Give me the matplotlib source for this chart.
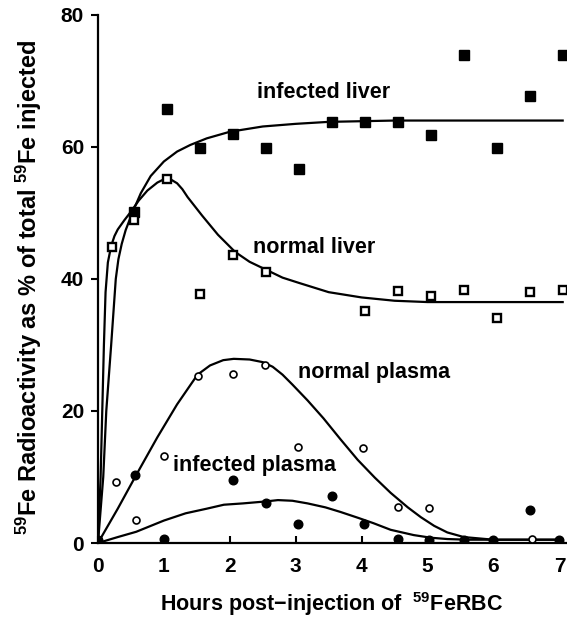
import matplotlib
matplotlib.use("Agg")
import matplotlib.pyplot as plt

plt.rcParams['font.family'] = ['Liberation Sans', 'DejaVu Sans']
plt.rcParams['font.weight'] = 'bold'
plt.rcParams['axes.labelweight'] = 'bold'
plt.rcParams['mathtext.fontset'] = 'custom'
plt.rcParams['mathtext.rm'] = 'Liberation Sans:bold'
plt.rcParams['mathtext.it'] = 'Liberation Sans:bold:italic'
plt.rcParams['mathtext.bf'] = 'Liberation Sans:bold'

# measured points (hours, % of injected 59Fe)
inf_liver_x = [0.55, 1.05, 1.55, 2.05, 2.55, 3.05, 3.55, 4.05, 4.55, 5.05, 5.55, 6.05, 6.55, 7.05]
inf_liver_y = [50.2, 65.8, 59.8, 62.0, 59.8, 56.7, 63.8, 63.8, 63.8, 61.8, 73.9, 59.8, 67.7, 73.9]

norm_liver_x = [0.22, 0.55, 1.05, 1.55, 2.05, 2.55, 4.05, 4.55, 5.05, 5.55, 6.05, 6.55, 7.05]
norm_liver_y = [44.8, 48.9, 55.2, 37.7, 43.6, 41.1, 35.2, 38.2, 37.4, 38.3, 34.1, 38.0, 38.3]

norm_plasma_x = [0, 0.27, 0.58, 1.0, 1.51, 2.05, 2.53, 3.03, 4.02, 4.55, 5.02, 6.58]
norm_plasma_y = [0.5, 9.3, 3.5, 13.2, 25.3, 25.6, 27.0, 14.6, 14.4, 5.4, 5.3, 0.6]

inf_plasma_x = [0, 0.56, 1.0, 2.05, 2.55, 3.03, 3.55, 4.03, 4.55, 5.02, 5.55, 6.0, 6.56, 7.0]
inf_plasma_y = [0.5, 10.3, 0.6, 9.5, 6.0, 2.9, 7.1, 2.9, 0.6, 0.5, 0.4, 0.4, 5.0, 0.4]

# fitted curves
inf_liver_fit_x = [0, 0.04, 0.08, 0.126, 0.2, 0.27, 0.31, 0.36, 0.42, 0.52, 0.65, 0.8, 1.0, 1.2,
                   1.4, 1.65, 2.0, 2.5, 3.0, 3.5, 4.5, 7.05]
inf_liver_fit_y = [0, 5, 10, 20, 30, 40, 43, 45.3, 47.4, 50, 53, 55.6, 57.8, 59.3,
                   60.3, 61.3, 62.3, 63.1, 63.5, 63.8, 64.0, 64.0]

norm_liver_fit_x = [0, 0.02, 0.04, 0.065, 0.09, 0.115, 0.15, 0.2, 0.25, 0.3, 0.4, 0.5, 0.62, 0.75,
                    0.9, 1.0, 1.1, 1.2, 1.28, 1.36, 1.47, 1.58, 1.82, 2.08, 2.3, 2.55, 2.8, 3.05,
                    3.5, 4.0, 4.5, 5.0, 7.05]
norm_liver_fit_y = [0, 5, 10, 20, 30, 38, 42.5, 45, 46.5, 47.5, 48.9, 50.2, 51.9, 53.4,
                    54.6, 55.1, 55.1, 54.5, 53.6, 52.4, 51.0, 49.6, 46.7, 44.1, 42.6, 41.4, 40.2, 39.4,
                    38.0, 37.2, 36.7, 36.5, 36.5]

norm_plasma_fit_x = [0, 0.3, 0.58, 0.9, 1.2, 1.51, 1.7, 1.9, 2.06, 2.3, 2.5, 2.65, 2.8, 2.95, 3.18,
                     3.42, 3.68, 3.94, 4.2, 4.44, 4.7, 4.9, 5.1, 5.3, 5.55, 6.0, 7.05]
norm_plasma_fit_y = [0, 5.2, 10.3, 16.0, 21.0, 25.5, 26.9, 27.7, 27.9, 27.8, 27.4, 26.7, 25.5, 24.0, 21.6,
                     18.9, 15.7, 12.6, 9.9, 7.6, 5.4, 3.9, 2.6, 1.6, 0.9, 0.5, 0.5]

inf_plasma_fit_x = [0, 0.3, 0.58, 1.0, 1.33, 1.65, 1.91, 2.2, 2.55, 2.73, 2.95, 3.18, 3.45,
                    3.68, 3.95, 4.18, 4.44, 4.79, 5.05, 5.3, 5.6, 7.05]
inf_plasma_fit_y = [0, 0.9, 1.7, 3.4, 4.5, 5.2, 5.8, 6.0, 6.3, 6.5, 6.4, 6.0, 5.4,
                    4.7, 3.8, 3.0, 2.0, 1.2, 0.8, 0.6, 0.5, 0.5]

xticks = [0, 1, 2, 3, 4, 5, 6, 7]
yticks = [0, 20, 40, 60, 80]

fig = plt.figure(figsize=(5.67, 6.22), dpi=100)
ax = fig.add_axes([0.1728, 0.127, 0.8254, 0.849])

lw = 1.6
ax.plot(inf_liver_fit_x, inf_liver_fit_y, color='black', lw=lw, zorder=2)
ax.plot(norm_liver_fit_x, norm_liver_fit_y, color='black', lw=lw, zorder=2)
ax.plot(norm_plasma_fit_x, norm_plasma_fit_y, color='black', lw=lw, zorder=2)
ax.plot(inf_plasma_fit_x, inf_plasma_fit_y, color='black', lw=lw, zorder=2)

ax.plot(inf_liver_x, inf_liver_y, 's', ms=6.8, mfc='black', mec='black', zorder=3)
ax.plot(norm_liver_x, norm_liver_y, 's', ms=5.3, mfc='white', mec='black', mew=1.7, zorder=3)
ax.plot(norm_plasma_x, norm_plasma_y, 'o', ms=5, mfc='white', mec='black', mew=1.2, zorder=3)
ax.plot(inf_plasma_x, inf_plasma_y, 'o', ms=6.2, mfc='black', mec='black', zorder=3)

fs = 15.5
ax.text(2.42, 68.3, 'infected liver', fontsize=fs, va='center', ha='left')
ax.text(2.35, 44.7, 'normal liver', fontsize=fs, va='center', ha='left')
ax.text(3.03, 25.9, 'normal plasma', fontsize=fs, va='center', ha='left')
ax.text(1.14, 11.8, 'infected plasma', fontsize=fs, va='center', ha='left')

ax.set_xlim(0, 7.1)
ax.set_ylim(0, 80)
ax.set_xticks(xticks)
ax.set_yticks(yticks)
ax.tick_params(axis='x', direction='in', length=5, width=1.5, pad=10, labelsize=15)
ax.tick_params(axis='y', direction='out', length=5, width=1.5, pad=5, labelsize=15)
for s in ['top', 'right']:
    ax.spines[s].set_visible(False)
for s in ['left', 'bottom']:
    ax.spines[s].set_linewidth(1.6)

ax.set_xlabel('Hours post\u2212injection of  $^{59}$FeRBC', fontsize=15.5, labelpad=10)
ax.set_ylabel('$^{59}$Fe Radioactivity as % of total $^{59}$Fe injected', fontsize=17)
ax.yaxis.set_label_coords(-0.115, 0.485)

fig.savefig('out.png', dpi=100)
